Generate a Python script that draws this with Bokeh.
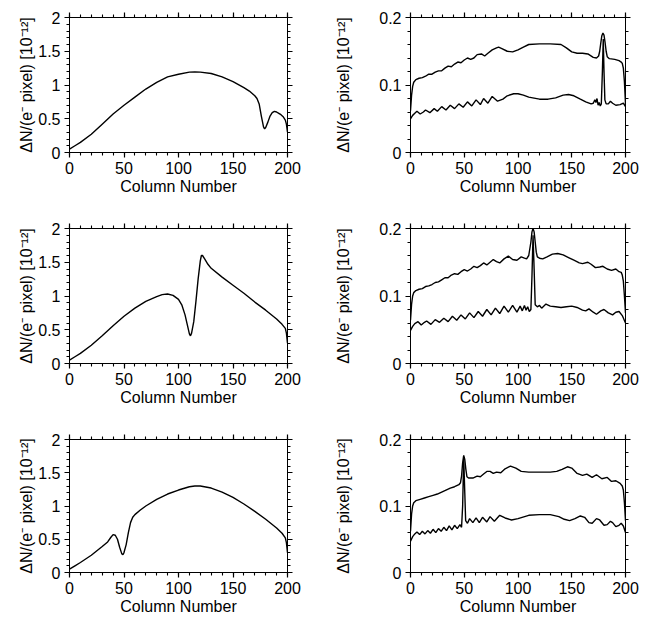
from bokeh.plotting import figure
from bokeh.layouts import column, row
from bokeh.models import Range1d, FixedTicker, LinearAxis, CustomJSTickFormatter
from bokeh.embed import file_html
from bokeh.resources import INLINE

FONT = "Liberation Sans"
Y_LABEL = "\u0394N/(e\u207b pixel) [10\u207b\u00b9\u00b2]"
X_LABEL = "Column Number"

x_major = [0, 50, 100, 150, 200]
x_minor = [0, 10, 20, 30, 40, 50, 60, 70, 80, 90, 100, 110, 120, 130, 140, 150, 160, 170, 180, 190, 200]
left_y_major = [0, 0.5, 1, 1.5, 2]
left_y_minor = [0, 0.1, 0.2, 0.3, 0.4, 0.5, 0.6, 0.7, 0.8, 0.9, 1.0, 1.1, 1.2, 1.3, 1.4, 1.5,
                1.6, 1.7, 1.8, 1.9, 2.0]
right_y_major = [0, 0.1, 0.2]
right_y_minor = [0, 0.02, 0.04, 0.06, 0.08, 0.1, 0.12, 0.14, 0.16, 0.18, 0.2]

# ---------------- Row 1 ----------------
r1_left_x = [0, 5, 10, 20, 30, 40, 50, 60, 70, 80, 90, 100, 110, 115, 120, 130, 140, 150, 160, 165,
             170, 172, 174, 176, 178, 179, 180, 182, 184, 186, 188, 190, 192, 194, 196, 198, 199, 200]
r1_left_y = [0.05, 0.10, 0.15, 0.27, 0.42, 0.57, 0.70, 0.82, 0.94, 1.04, 1.12, 1.16, 1.19, 1.195, 1.19,
             1.17, 1.12, 1.05, 0.96, 0.91, 0.84, 0.80, 0.72, 0.54, 0.38, 0.35, 0.37, 0.45, 0.54, 0.59,
             0.61, 0.60, 0.58, 0.56, 0.53, 0.48, 0.42, 0.30]

r1_up_x = [0, 1, 2, 3, 5, 8, 11, 14, 17, 20, 23, 26, 29, 32, 35, 38, 41, 44, 47, 50, 53, 56, 59, 62,
           66, 69, 72, 76, 80, 82, 85, 90, 95, 100, 105, 110, 120, 130, 140, 145, 150, 155, 160, 165,
           170, 173, 175, 176, 177, 178, 179, 180, 181, 182, 183, 185, 190, 194, 196, 197, 198, 199, 200]
r1_up_y = [0.062, 0.085, 0.098, 0.104, 0.108, 0.110, 0.111, 0.113, 0.116, 0.116, 0.119, 0.121, 0.121,
           0.125, 0.128, 0.127, 0.131, 0.134, 0.133, 0.137, 0.140, 0.138, 0.140, 0.145, 0.146, 0.143,
           0.147, 0.152, 0.155, 0.156, 0.154, 0.150, 0.149, 0.152, 0.156, 0.160, 0.161, 0.161, 0.160,
           0.155, 0.149, 0.147, 0.147, 0.146, 0.141, 0.140, 0.143, 0.150, 0.162, 0.173, 0.177, 0.174,
           0.163, 0.150, 0.142, 0.139, 0.138, 0.136, 0.134, 0.132, 0.125, 0.105, 0.072]
r1_lo_x = [0, 2, 4, 6, 9, 12, 14, 18, 22, 25, 29, 33, 37, 41, 45, 49, 53, 57, 61, 65, 68, 72, 76, 81,
           86, 90, 96, 100, 105, 110, 120, 128, 135, 142, 147, 152, 158, 163, 168, 170, 171.5, 172.5,
           173.5, 174.5, 175.5, 176.5, 177.5, 178.5, 179.3, 180, 180.8, 182, 184, 186, 188, 191, 195,
           198, 200]
r1_lo_y = [0.050, 0.055, 0.058, 0.061, 0.057, 0.060, 0.063, 0.059, 0.065, 0.061, 0.068, 0.063, 0.070,
           0.065, 0.072, 0.067, 0.075, 0.069, 0.078, 0.071, 0.080, 0.073, 0.083, 0.076, 0.079, 0.084,
           0.087, 0.087, 0.085, 0.082, 0.079, 0.079, 0.081, 0.085, 0.086, 0.084, 0.079, 0.075, 0.072,
           0.073, 0.078, 0.074, 0.080, 0.070, 0.074, 0.069, 0.072, 0.120, 0.168, 0.120, 0.078, 0.072,
           0.072, 0.076, 0.073, 0.070, 0.071, 0.073, 0.068]

# ---------------- Row 2 ----------------
r2_left_x = [0, 5, 10, 20, 30, 40, 50, 60, 70, 80, 85, 90, 95, 100, 103, 106, 108, 110, 111, 112, 114,
             116, 118, 120, 121, 122, 124, 127, 130, 140, 150, 160, 170, 180, 190, 195, 198, 199, 200]
r2_left_y = [0.05, 0.10, 0.15, 0.27, 0.41, 0.56, 0.70, 0.82, 0.92, 0.99, 1.02, 1.03, 1.01, 0.95, 0.87,
             0.72, 0.58, 0.44, 0.41, 0.45, 0.62, 0.92, 1.25, 1.52, 1.60, 1.60, 1.55, 1.47, 1.41, 1.28,
             1.16, 1.04, 0.91, 0.79, 0.66, 0.58, 0.52, 0.45, 0.30]

r2_up_x = [0, 1, 2, 3, 5, 8, 11, 14, 17, 20, 23, 26, 29, 32, 35, 38, 41, 44, 47, 50, 53, 56, 59, 62,
           65, 68, 71, 74, 77, 80, 83, 87, 91, 95, 99, 103, 106, 108, 110, 112, 113, 114, 115, 116, 117,
           118, 120, 123, 127, 132, 137, 142, 147, 152, 157, 160, 165, 168, 172, 176, 179, 183, 187,
           191, 194, 196, 197, 198, 199, 200]
r2_up_y = [0.064, 0.088, 0.100, 0.105, 0.108, 0.110, 0.111, 0.114, 0.115, 0.117, 0.120, 0.121, 0.124,
           0.127, 0.127, 0.131, 0.133, 0.132, 0.136, 0.139, 0.137, 0.140, 0.144, 0.142, 0.145, 0.149,
           0.146, 0.150, 0.154, 0.151, 0.149, 0.155, 0.159, 0.154, 0.153, 0.158, 0.156, 0.155, 0.160,
           0.180, 0.195, 0.200, 0.195, 0.180, 0.165, 0.158, 0.156, 0.155, 0.158, 0.162, 0.163, 0.161,
           0.157, 0.153, 0.149, 0.148, 0.150, 0.147, 0.142, 0.143, 0.144, 0.140, 0.138, 0.140, 0.136,
           0.135, 0.131, 0.122, 0.100, 0.075]
r2_lo_x = [0, 2, 4, 7, 10, 13, 15, 19, 23, 27, 31, 35, 39, 43, 47, 51, 55, 59, 63, 67, 71, 75, 79, 83,
           87, 91, 95, 99, 102, 104, 106, 107.5, 109, 110.5, 112, 113, 114, 115, 116, 118, 120, 122,
           126, 130, 135, 140, 145, 150, 155, 160, 163, 166, 170, 173, 177, 180, 184, 188, 191, 194,
           197, 200]
r2_lo_y = [0.049, 0.055, 0.059, 0.062, 0.057, 0.061, 0.063, 0.058, 0.065, 0.061, 0.067, 0.062, 0.070,
           0.064, 0.072, 0.066, 0.075, 0.068, 0.077, 0.070, 0.080, 0.072, 0.082, 0.074, 0.085, 0.076,
           0.086, 0.076, 0.085, 0.078, 0.086, 0.079, 0.084, 0.077, 0.080, 0.130, 0.190, 0.140, 0.087,
           0.084, 0.086, 0.082, 0.088, 0.085, 0.084, 0.083, 0.084, 0.085, 0.083, 0.079, 0.078, 0.081,
           0.076, 0.073, 0.078, 0.080, 0.075, 0.072, 0.076, 0.077, 0.071, 0.060]

# ---------------- Row 3 ----------------
r3_left_x = [0, 5, 10, 20, 30, 35, 38, 40, 42, 44, 46, 48, 49, 50, 52, 54, 56, 58, 60, 65, 70, 80, 90,
             100, 110, 115, 120, 130, 140, 150, 160, 170, 180, 190, 195, 198, 199, 200]
r3_left_y = [0.05, 0.10, 0.15, 0.26, 0.39, 0.46, 0.53, 0.57, 0.56, 0.50, 0.38, 0.28, 0.27, 0.30, 0.42,
             0.60, 0.75, 0.83, 0.87, 0.94, 1.00, 1.10, 1.18, 1.24, 1.29, 1.30, 1.30, 1.27, 1.21, 1.13,
             1.03, 0.92, 0.80, 0.67, 0.59, 0.52, 0.45, 0.30]

r3_up_x = [0, 1, 2, 3, 5, 9, 13, 17, 21, 25, 29, 33, 37, 41, 45, 46.5, 47.5, 48.5, 49.5, 50.5, 51.5,
           52.5, 54, 58, 62, 65, 68, 71, 74, 77, 80, 84, 88, 93, 98, 103, 110, 120, 130, 136, 141, 146,
           150, 155, 160, 164, 169, 173, 178, 183, 187, 191, 195, 197, 198, 199, 200]
r3_up_y = [0.062, 0.088, 0.100, 0.105, 0.108, 0.110, 0.112, 0.114, 0.116, 0.118, 0.121, 0.124, 0.127,
           0.129, 0.132, 0.135, 0.145, 0.165, 0.176, 0.170, 0.155, 0.144, 0.142, 0.142, 0.145, 0.144,
           0.148, 0.152, 0.152, 0.149, 0.151, 0.150, 0.156, 0.160, 0.157, 0.152, 0.151, 0.151, 0.151,
           0.152, 0.155, 0.159, 0.157, 0.149, 0.146, 0.148, 0.143, 0.147, 0.141, 0.143, 0.137, 0.138,
           0.134, 0.130, 0.124, 0.105, 0.078]
r3_lo_x = [0, 2, 4, 6, 8.5, 11, 13.5, 16, 18.5, 21, 23.5, 26, 28.5, 31, 33.5, 36, 38.5, 41, 43.5, 46,
           47.5, 48.5, 49.5, 50.5, 51.3, 53, 55, 58, 61, 64, 67, 71, 74, 78, 83, 88, 94, 100, 110, 120,
           130, 138, 143, 148, 153, 158, 162, 166, 169, 173, 176, 180, 183, 186, 188, 191, 194, 196,
           198, 200]
r3_lo_y = [0.047, 0.054, 0.058, 0.061, 0.057, 0.062, 0.058, 0.063, 0.059, 0.065, 0.060, 0.066, 0.062,
           0.068, 0.063, 0.070, 0.064, 0.071, 0.066, 0.072, 0.068, 0.100, 0.172, 0.120, 0.078, 0.074,
           0.081, 0.075, 0.082, 0.075, 0.083, 0.076, 0.084, 0.077, 0.086, 0.082, 0.079, 0.081, 0.086,
           0.087, 0.087, 0.084, 0.080, 0.078, 0.081, 0.085, 0.083, 0.075, 0.074, 0.081, 0.079, 0.071,
           0.072, 0.077, 0.075, 0.069, 0.071, 0.074, 0.070, 0.060]


def style_axis(ax, ticks, minor, labels=True):
    ax.ticker = FixedTicker(ticks=ticks, minor_ticks=minor)
    ax.axis_line_color = "black"
    ax.axis_line_width = 1
    ax.major_tick_in = 0
    ax.major_tick_out = 5
    ax.minor_tick_in = 0
    ax.minor_tick_out = 3
    ax.major_tick_line_color = "black"
    ax.major_tick_line_width = 1.2
    ax.minor_tick_line_color = "black"
    ax.minor_tick_line_width = 1.1
    ax.major_label_text_font = FONT
    ax.major_label_text_color = "black"
    ax.axis_label_text_font = FONT
    ax.axis_label_text_font_style = "normal"
    ax.axis_label_text_color = "black"
    if labels:
        ax.formatter = CustomJSTickFormatter(code="return String(tick)")
        ax.major_label_text_font_size = "16px"
        ax.major_label_standoff = 4
    else:
        ax.formatter = CustomJSTickFormatter(code="return ''")
        ax.major_label_text_font_size = "0px"
        ax.major_label_standoff = 0


def panel(curves, ymax, ymaj, ymin, width, height, bl, br, bt, bb, label_standoff):
    p = figure(width=width, height=height, x_range=Range1d(0, 200), y_range=Range1d(0, ymax),
               output_backend="svg", toolbar_location=None, tools="",
               min_border_left=bl, min_border_right=br, min_border_top=bt, min_border_bottom=bb)
    p.xgrid.visible = False
    p.ygrid.visible = False
    p.outline_line_color = "black"
    for xs, ys in curves:
        p.line(xs, ys, line_color="black", line_width=1.4)
    xb = p.xaxis[0]
    yl = p.yaxis[0]
    style_axis(xb, x_major, x_minor)
    style_axis(yl, ymaj, ymin)
    xb.axis_label = X_LABEL
    xb.axis_label_text_font_size = "16px"
    xb.axis_label_standoff = 1
    yl.axis_label = Y_LABEL
    yl.axis_label_text_font_size = "16px"
    yl.axis_label_standoff = label_standoff
    xt = LinearAxis()
    style_axis(xt, x_major, x_minor, labels=False)
    p.add_layout(xt, "above")
    yr = LinearAxis()
    style_axis(yr, ymaj, ymin, labels=False)
    p.add_layout(yr, "right")
    return p


LW, RW = 328, 317
# (figure height, top border, frame height)
row_specs = [(211, 17, 135), (211, 17, 135), (196, 17, 133)]

rows = []
data = [
    (r1_left_x, r1_left_y, r1_up_x, r1_up_y, r1_lo_x, r1_lo_y),
    (r2_left_x, r2_left_y, r2_up_x, r2_up_y, r2_lo_x, r2_lo_y),
    (r3_left_x, r3_left_y, r3_up_x, r3_up_y, r3_lo_x, r3_lo_y),
]
for (lx, ly, ux, uy, ox, oy), (h, bt, fh) in zip(data, row_specs):
    bb = h - bt - fh
    left = panel([(lx, ly)], 2, left_y_major, left_y_minor, LW, h, 69, 41, bt, bb, 0)
    right = panel([(ux, uy), (ox, oy)], 0.2, right_y_major, right_y_minor, RW, h, 82, 20, bt, bb, 24)
    rows.append(row(left, right))

layout = column(*rows)
open("out.html", "w").write(file_html(layout, INLINE))
